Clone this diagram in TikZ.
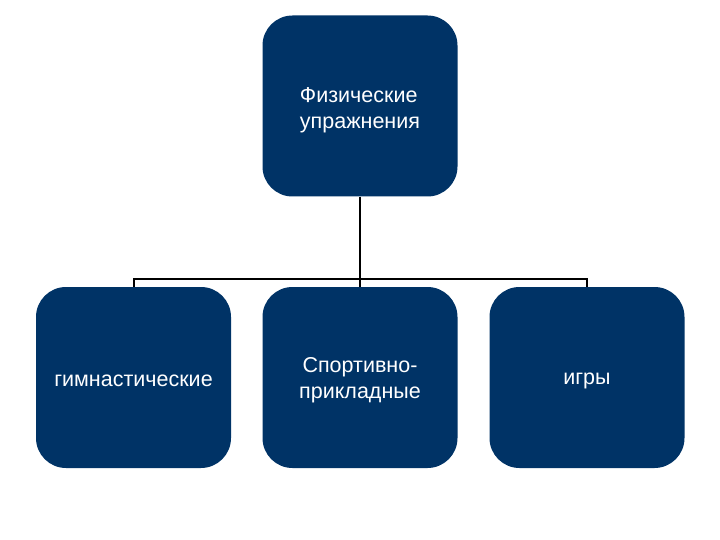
\documentclass[tikz,border=0pt]{standalone}
\usepackage{fontspec}
\setmainfont{Liberation Sans}
\definecolor{boxblue}{RGB}{0,51,102}
\begin{document}
\begin{tikzpicture}[x=1pt,y=-1pt,
  box/.style={draw=none,fill=boxblue,rounded corners=30pt,minimum width=195pt,minimum height=181pt,inner sep=0pt},
  lbl/.style={text=white,font=\fontsize{21.5}{26}\selectfont,inner sep=0pt},
  conn/.style={draw=black,line width=2pt}]
\useasboundingbox (0,0) rectangle (720,540);
\node[box] (top) at (360,106) {};
\node[box] (gym) at (133.5,377.5) {};
\node[box] (spo) at (360,377.5) {};
\node[box] (igr) at (587,377.5) {};
\node[lbl,align=left] (ttopt) at ([yshift=-4pt]top.center) {Физические\\упражнения};
\node[lbl] (gymt) at ([yshift=-3pt]gym.center) {гимнастические};
\node[lbl,align=center] (spot) at ([yshift=-3pt]spo.center) {Спортивно-\\прикладные};
\node[lbl] (igrt) at ([yshift=-3pt]igr.center) {игры};
\coordinate (j) at (360,278.5);
\draw[conn] (top.south) -- (j);
\draw[conn] (gym.north) |- (j) -| (igr.north);
\draw[conn] (j) -- (spo.north);
\end{tikzpicture}
\end{document}
